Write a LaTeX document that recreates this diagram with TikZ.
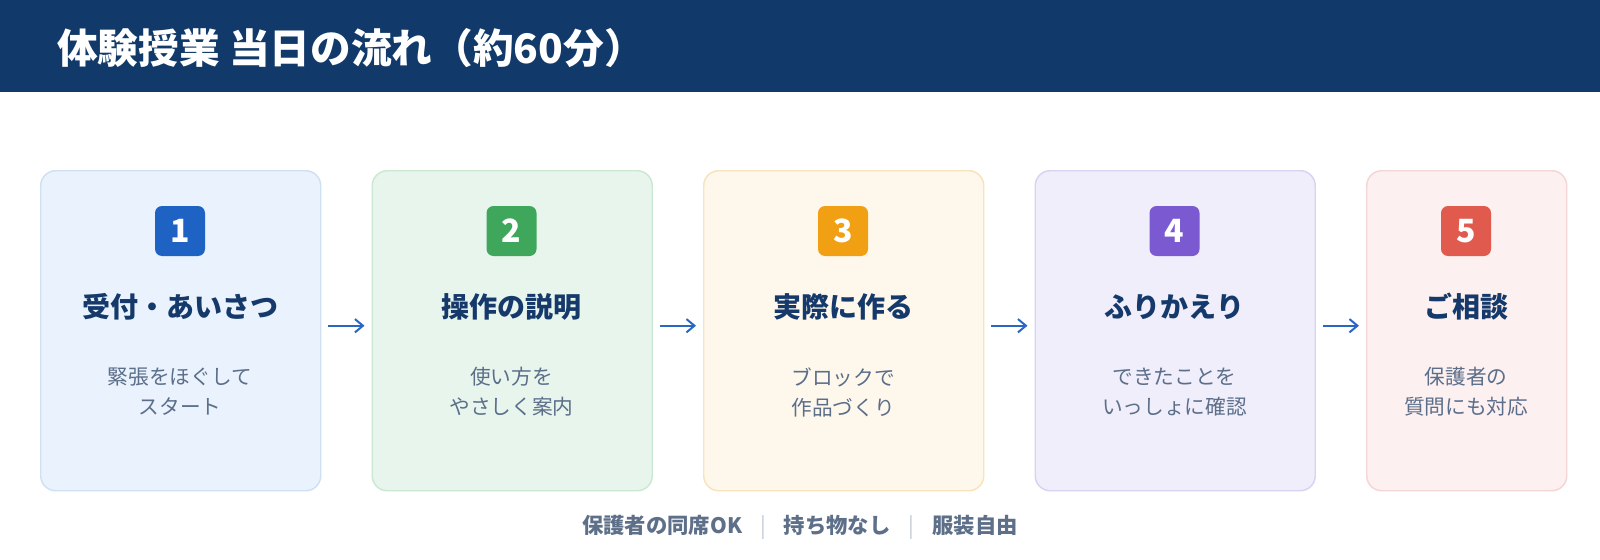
\documentclass[tikz,border=0pt]{standalone}
\usepackage{fontspec}
\setmainfont{Noto Sans CJK JP}
\usetikzlibrary{arrows.meta}
\definecolor{head}{HTML}{113A6A}
\definecolor{navy}{HTML}{15396A}
\definecolor{desc}{HTML}{5B6E8A}
\definecolor{foot}{HTML}{5E7089}
\definecolor{sepc}{HTML}{C3CCD8}
\definecolor{arrc}{HTML}{2A66C4}
\definecolor{fillA}{HTML}{EAF3FD}\definecolor{lineA}{HTML}{CFE0F3}\definecolor{badgeA}{HTML}{1E63C4}
\definecolor{fillB}{HTML}{E8F5EC}\definecolor{lineB}{HTML}{CBE8D3}\definecolor{badgeB}{HTML}{3FA75C}
\definecolor{fillC}{HTML}{FEF8EC}\definecolor{lineC}{HTML}{F8E3BC}\definecolor{badgeC}{HTML}{F0A012}
\definecolor{fillD}{HTML}{F1EEFB}\definecolor{lineD}{HTML}{DAD2F2}\definecolor{badgeD}{HTML}{7B59D0}
\definecolor{fillE}{HTML}{FDF0F0}\definecolor{lineE}{HTML}{F4D6D6}\definecolor{badgeE}{HTML}{E05A4E}
\tikzset{
  stepbox/.style={draw, rounded corners=11.25pt, line width=1.1pt, minimum width=210pt,
    minimum height=240pt, anchor=north west, inner sep=0pt},
  badge/.style={rounded corners=5.25pt, minimum size=37.5pt, inner sep=0pt, text=white,
    font=\bfseries\fontsize{24}{28}\selectfont},
  steptitle/.style={text=navy, inner sep=0pt, font=\bfseries\fontsize{21}{24}\selectfont},
  stepdesc/.style={text=desc, inner sep=0pt, align=center, font=\fontsize{15.5}{22.5}\selectfont},
  flowarrow/.style={draw=arrc, line width=1.5pt, -{Straight Barb[length=6pt,width=10pt,line width=1.5pt]}}
}
\begin{document}
\begin{tikzpicture}[x=0.75pt,y=-0.75pt]
\useasboundingbox (0,0) rectangle (1600,560);
\fill[white] (0,0) rectangle (1600,560);
\fill[head] (0,0) rectangle (1600,92);
\node[anchor=west, text=white, inner sep=0pt, font=\bfseries\fontsize{30.5}{34}\selectfont] (title) at (57,48) {体験授業 当日の流れ（約60分）};

% boxes
\node[stepbox, fill=fillA, draw=lineA] (b1) at (40,170) {};
\node[stepbox, fill=fillB, draw=lineB] (b2) at (371.5,170) {};
\node[stepbox, fill=fillC, draw=lineC] (b3) at (703,170) {};
\node[stepbox, fill=fillD, draw=lineD] (b4) at (1034.5,170) {};
\node[stepbox, fill=fillE, draw=lineE, minimum width=150pt] (b5) at (1366,170) {};

% badges
\node[badge, fill=badgeA] (n1) at (180,231) {1};
\node[badge, fill=badgeB] (n2) at (511.5,231) {2};
\node[badge, fill=badgeC] (n3) at (843,231) {3};
\node[badge, fill=badgeD] (n4) at (1174.5,231) {4};
\node[badge, fill=badgeE] (n5) at (1466,231) {5};

% titles
\node[steptitle] (t1) at (180,307) {受付・あいさつ};
\node[steptitle] (t2) at (511.5,307) {操作の説明};
\node[steptitle] (t3) at (843,307) {実際に作る};
\node[steptitle] (t4) at (1174.5,307) {ふりかえり};
\node[steptitle] (t5) at (1466,307) {ご相談};

% descriptions
\node[stepdesc] (d1) at (180,392) {緊張をほぐして\\スタート};
\node[stepdesc] (d2) at (511.5,392) {使い方を\\やさしく案内};
\node[stepdesc] (d3) at (843,392) {ブロックで\\作品づくり};
\node[stepdesc] (d4) at (1174.5,392) {できたことを\\いっしょに確認};
\node[stepdesc] (d5) at (1466,392) {保護者の\\質問にも対応};

% arrows
\draw[flowarrow] ([xshift=5.25pt,yshift=3.75pt]b1.east) -- ([xshift=-5.25pt,yshift=3.75pt]b2.west);
\draw[flowarrow] ([xshift=5.25pt,yshift=3.75pt]b2.east) -- ([xshift=-5.25pt,yshift=3.75pt]b3.west);
\draw[flowarrow] ([xshift=5.25pt,yshift=3.75pt]b3.east) -- ([xshift=-5.25pt,yshift=3.75pt]b4.west);
\draw[flowarrow] ([xshift=5.25pt,yshift=3.75pt]b4.east) -- ([xshift=-5.25pt,yshift=3.75pt]b5.west);

% footer
\node[text=foot, inner sep=0pt, font=\bfseries\fontsize{16}{18}\selectfont] (foot) at (800,527)
  {保護者の同席OK\hspace{13.5pt}{\mdseries\color{sepc}|}\hspace{13.5pt}持ち物なし\hspace{13.5pt}{\mdseries\color{sepc}|}\hspace{13.5pt}服装自由};
\end{tikzpicture}
\end{document}
